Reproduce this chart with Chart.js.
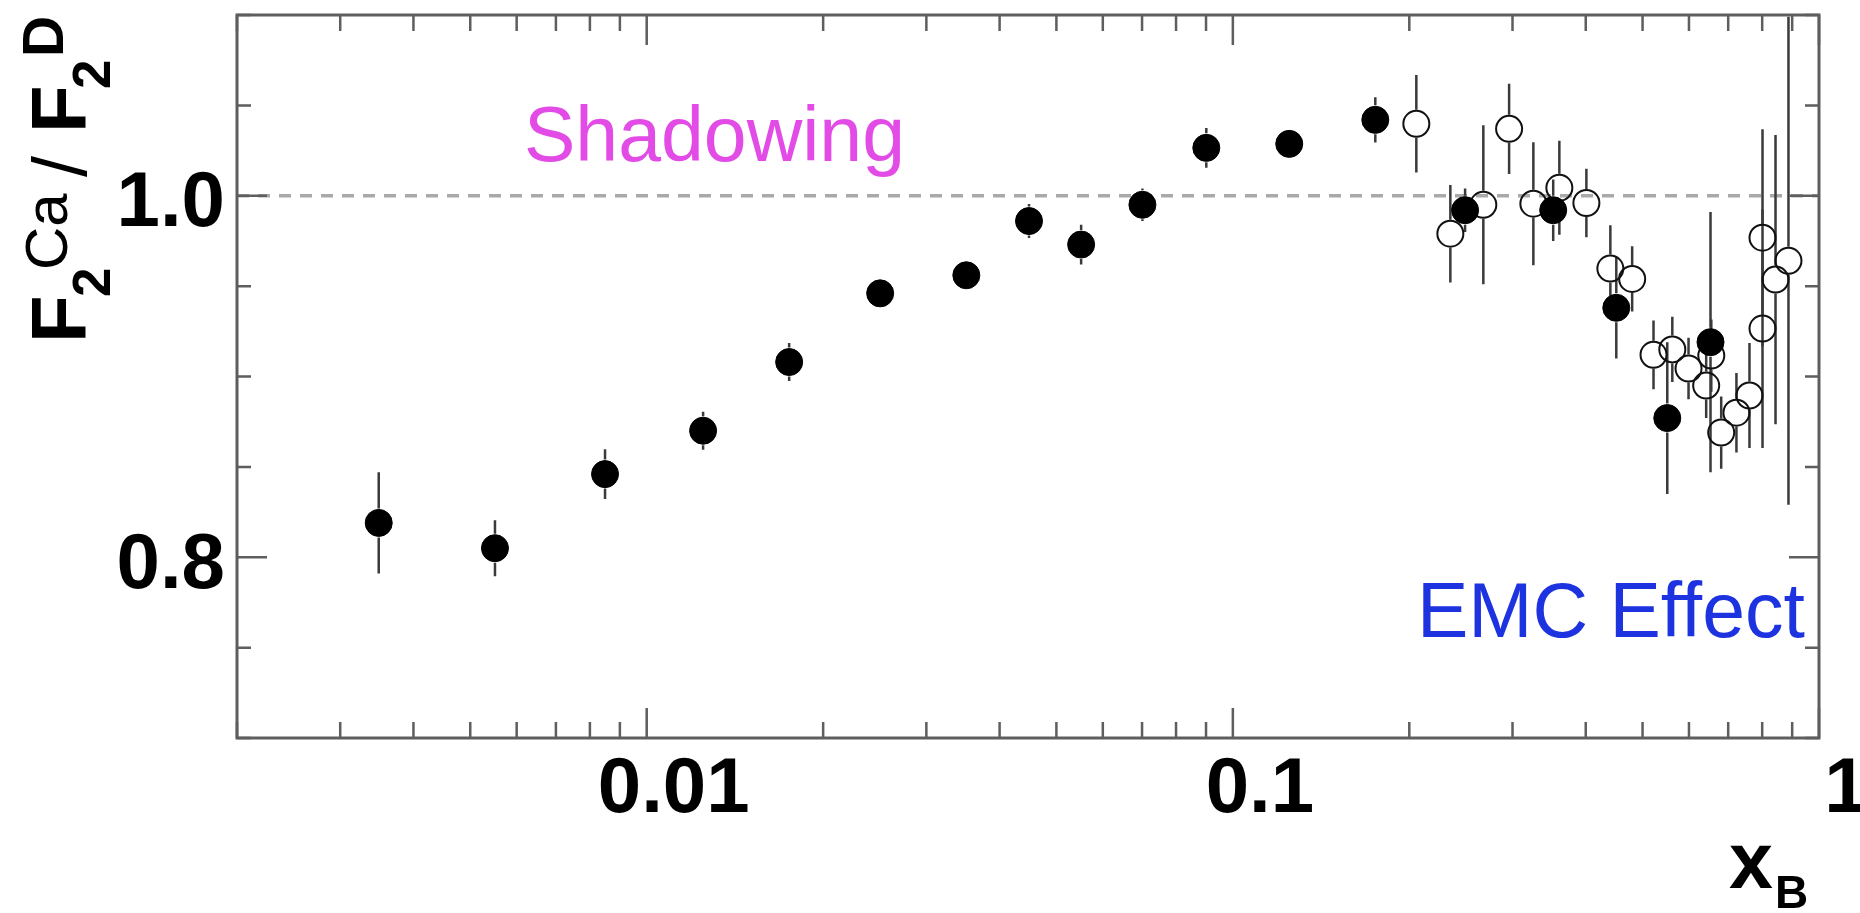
<!DOCTYPE html>
<html>
<head>
<meta charset="utf-8">
<script src="https://cdn.jsdelivr.net/npm/chart.js@4.4.1/dist/chart.umd.min.js"></script>
<style>
  html, body { margin: 0; padding: 0; background: #fff; }
  canvas { display: block; }
</style>
</head>
<body>
<canvas id="c" width="1860" height="913"></canvas>
<script>
// ---- data ----
const xFilled = [0.00349, 0.00551, 0.00849, 0.01248, 0.0175, 0.02502, 0.0351, 0.0449, 0.0551, 0.0701, 0.0901, 0.1248, 0.175, 0.249, 0.352, 0.451, 0.551, 0.653];
const yFilled = [0.819, 0.805, 0.846, 0.870, 0.908, 0.946, 0.956, 0.986, 0.973, 0.995, 1.0265, 1.0287, 1.042, 0.992, 0.992, 0.938, 0.877, 0.919];
const eFilled = [0.028, 0.0155, 0.0138, 0.0105, 0.0105, 0.006, 0.006, 0.0094, 0.011, 0.009, 0.011, 0.008, 0.0125, 0.012, 0.017, 0.028, 0.042, 0.072];

const xOpen = [0.2056, 0.235, 0.2675, 0.296, 0.3256, 0.3606, 0.401, 0.4406, 0.480, 0.522, 0.562, 0.599, 0.642, 0.655, 0.681, 0.723, 0.761, 0.801, 0.801, 0.843, 0.887];
const yOpen = [1.0398, 0.979, 0.995, 1.037, 0.9956, 1.0044, 0.996, 0.9597, 0.954, 0.912, 0.915, 0.9044, 0.895, 0.9116, 0.869, 0.880, 0.8895, 0.9768, 0.9265, 0.9536, 0.964];
const eOpen = [0.027, 0.027, 0.044, 0.025, 0.034, 0.026, 0.019, 0.024, 0.018, 0.019, 0.018, 0.017, 0.018, 0.02, 0.02, 0.022, 0.029, 0.06, 0.066, 0.08, 0.135];

const xTickValues = [0.01, 0.1, 1];
const xTickLabels = ['0.01', '0.1', '1'];
const yTickValues = [0.8, 1.0];
const yTickLabels = ['0.8', '1.0'];
const xMin = 0.002, xMax = 1, yMin = 0.7, yMax = 1.1;
const referenceLine = 1.0;

const FONT = "'Liberation Sans', Arial, Helvetica, sans-serif";

function toPoints(xs, ys) { return xs.map((x, i) => ({ x: x, y: ys[i] })); }

const decor = {
  id: 'decor',
  beforeDatasetsDraw(chart) {
    const { ctx, chartArea: a, scales: { x, y } } = chart;
    // dashed reference line at 1.0
    ctx.save();
    ctx.strokeStyle = '#a9a9a9';
    ctx.lineWidth = 3.5;
    ctx.setLineDash([12, 9]);
    const py = y.getPixelForValue(referenceLine);
    ctx.beginPath(); ctx.moveTo(a.left, py); ctx.lineTo(a.right, py); ctx.stroke();
    ctx.restore();
    // error bars
    ctx.save();
    ctx.beginPath(); ctx.rect(a.left, a.top, a.right - a.left, a.bottom - a.top); ctx.clip();
    ctx.strokeStyle = '#3a3a3a';
    ctx.lineWidth = 2.5;
    chart.data.datasets.forEach((ds, di) => {
      const meta = chart.getDatasetMeta(di);
      const r = ds.pointRadius + 1;
      ds.data.forEach((p, i) => {
        const e = ds.errs[i];
        const px = meta.data[i].x, pyc = meta.data[i].y;
        const pt = y.getPixelForValue(p.y + e), pb = y.getPixelForValue(p.y - e);
        ctx.beginPath();
        if (pyc - r > pt) { ctx.moveTo(px, pt); ctx.lineTo(px, pyc - r); }
        if (pyc + r < pb) { ctx.moveTo(px, pyc + r); ctx.lineTo(px, pb); }
        ctx.stroke();
      });
    });
    ctx.restore();
  },
  afterDatasetsDraw(chart) {
    const { ctx, chartArea: a, scales: { x, y } } = chart;
    ctx.save();
    ctx.strokeStyle = '#5e5e5e';
    ctx.lineWidth = 2.5;
    ctx.beginPath();
    for (let d = 0.001; d < 1.5; d *= 10) {
      for (let k = 1; k <= 9; k++) {
        const v = d * k;
        if (v < xMin * 0.999 || v > xMax * 1.001) continue;
        const px = x.getPixelForValue(v);
        const major = xTickValues.some(t => Math.abs(t - v) < 1e-9);
        const L = major ? 30 : 16;
        ctx.moveTo(px, a.bottom); ctx.lineTo(px, a.bottom - L);
        ctx.moveTo(px, a.top); ctx.lineTo(px, a.top + L);
      }
    }
    for (let i = 0; i <= 8; i++) {
      const v = yMin + i * 0.05;
      const py = y.getPixelForValue(v);
      const major = yTickValues.some(t => Math.abs(t - v) < 1e-6);
      const L = major ? 30 : 14;
      ctx.moveTo(a.left, py); ctx.lineTo(a.left + L, py);
      ctx.moveTo(a.right, py); ctx.lineTo(a.right - L, py);
    }
    ctx.stroke();
    ctx.lineWidth = 3;
    ctx.strokeRect(a.left, a.top, a.right - a.left, a.bottom - a.top);
    ctx.restore();
  },
  afterDraw(chart) {
    const { ctx } = chart;
    ctx.save();
    ctx.textAlign = 'left';
    ctx.textBaseline = 'alphabetic';
    ctx.fillStyle = '#e24be6';
    ctx.font = `77px ${FONT}`;
    ctx.fillText('Shadowing', 524, 161);
    ctx.fillStyle = '#1d33e0';
    ctx.fillText('EMC Effect', 1417, 637);
    ctx.fillStyle = '#000';
    ctx.font = `bold 79px ${FONT}`;
    ctx.fillText('x', 1729, 888);
    ctx.font = `bold 46px ${FONT}`;
    ctx.fillText('B', 1775, 908);
    ctx.translate(86, 338);
    ctx.rotate(-Math.PI / 2);
    const pieces = [
      ['F', `bold 78px ${FONT}`, -5, 0],
      ['2', `bold 53px ${FONT}`, 41, 24],
      ['Ca', `60px ${FONT}`, 68, -19],
      ['/', `76px ${FONT}`, 161, 0],
      ['F', `bold 78px ${FONT}`, 205, 0],
      ['2', `bold 53px ${FONT}`, 249, 24],
      ['D', `bold 57px ${FONT}`, 281, -23]
    ];
    pieces.forEach(([t, f, u, v]) => { ctx.font = f; ctx.fillText(t, u, v); });
    ctx.restore();
  }
};

function noPad(s) { s.paddingTop = 0; s.paddingBottom = 0; s.paddingLeft = 0; s.paddingRight = 0; }

new Chart(document.getElementById('c'), {
  type: 'scatter',
  data: {
    datasets: [
      {
        label: 'filled',
        data: toPoints(xFilled, yFilled),
        errs: eFilled,
        pointStyle: 'circle',
        pointRadius: 13.5,
        pointBackgroundColor: '#000',
        pointBorderColor: '#000',
        pointBorderWidth: 1,
        order: 0
      },
      {
        label: 'open',
        data: toPoints(xOpen, yOpen),
        errs: eOpen,
        pointStyle: 'circle',
        pointRadius: 13,
        pointBackgroundColor: 'rgba(0,0,0,0)',
        pointBorderColor: '#111',
        pointBorderWidth: 2,
        order: 1
      }
    ]
  },
  options: {
    responsive: false,
    animation: false,
    devicePixelRatio: 1,
    layout: { padding: { left: 0, top: 13, right: 41, bottom: 0 } },
    plugins: { legend: { display: false }, tooltip: { enabled: false } },
    events: [],
    scales: {
      x: {
        type: 'logarithmic',
        min: xMin, max: xMax,
        grid: { display: false, drawTicks: false },
        border: { display: false },
        afterBuildTicks: (s) => { s.ticks = xTickValues.map(v => ({ value: v })); },
        afterFit: (s) => { s.height = 175; noPad(s); },
        ticks: {
          autoSkip: false, maxRotation: 0, minRotation: 0,
          padding: 6, labelOffset: 27,
          color: '#000',
          font: { family: FONT, size: 78, weight: 'bold' },
          callback: (v) => { const i = xTickValues.findIndex(t => Math.abs(t - v) < 1e-9); return i >= 0 ? xTickLabels[i] : ''; }
        }
      },
      y: {
        type: 'linear',
        min: yMin, max: yMax,
        grid: { display: false, drawTicks: false },
        border: { display: false },
        afterBuildTicks: (s) => { s.ticks = yTickValues.map(v => ({ value: v })); },
        afterFit: (s) => { s.width = 237; noPad(s); },
        ticks: {
          autoSkip: false, padding: 12, labelOffset: 9,
          color: '#000',
          font: { family: FONT, size: 78, weight: 'bold' },
          callback: (v) => { const i = yTickValues.findIndex(t => Math.abs(t - v) < 1e-6); return i >= 0 ? yTickLabels[i] : ''; }
        }
      }
    }
  },
  plugins: [decor]
});
</script>
</body>
</html>
